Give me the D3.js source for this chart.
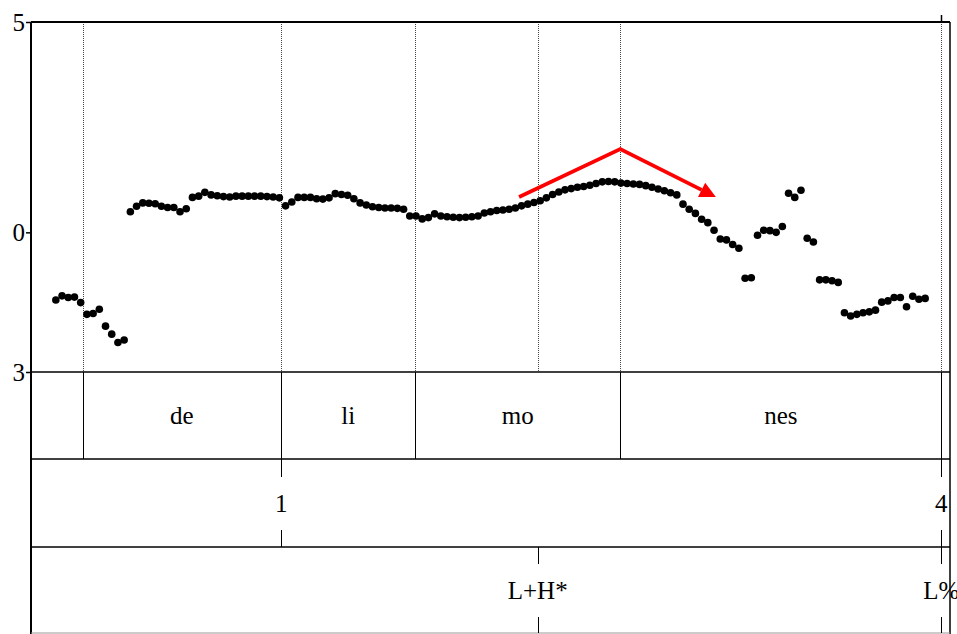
<!DOCTYPE html>
<html>
<head>
<meta charset="utf-8">
<script src="https://cdn.jsdelivr.net/npm/d3@7"></script>
<style>
  html, body { margin: 0; padding: 0; background: #fff; }
  svg { display: block; }
  text { font-family: "Liberation Serif", "Times New Roman", serif; }
</style>
</head>
<body>
<svg id="chart" width="957" height="634"></svg>
<script>
// Pitch track (one frame every 10 ms), in display units of the vertical axis
const frameTimes = [0.04,0.05,0.06,0.07,0.08,0.09,0.10,0.11,0.12,0.13,0.14,0.15,0.16,0.17,0.18,0.19,0.20,0.21,0.22,0.23,
  0.24,0.25,0.26,0.27,0.28,0.29,0.30,0.31,0.32,0.33,0.34,0.35,0.36,0.37,0.38,0.39,0.40,0.41,0.42,0.43,
  0.44,0.45,0.46,0.47,0.48,0.49,0.50,0.51,0.52,0.53,0.54,0.55,0.56,0.57,0.58,0.59,0.60,0.61,0.62,0.63,
  0.64,0.65,0.66,0.67,0.68,0.69,0.70,0.71,0.72,0.73,0.74,0.75,0.76,0.77,0.78,0.79,0.80,0.81,0.82,0.83,
  0.84,0.85,0.86,0.87,0.88,0.89,0.90,0.91,0.92,0.93,0.94,0.95,0.96,0.97,0.98,0.99,1.00,1.01,1.02,1.03,
  1.04,1.05,1.06,1.07,1.08,1.09,1.10,1.11,1.12,1.13,1.14,1.15,1.16,1.17,1.18,1.19,1.20,1.21,1.22,1.23,
  1.24,1.25,1.26,1.27,1.28,1.29,1.30,1.31,1.32,1.33,1.34,1.35,1.36,1.37,1.38,1.39,1.40,1.41,1.42,1.43,1.44];
const pitchValues = [-1.61,-1.51,-1.55,-1.54,-1.67,-1.95,-1.93,-1.83,-2.23,-2.42,-2.62,-2.56,
  0.49,0.62,0.70,0.69,0.68,0.62,0.59,0.59,0.49,0.56,0.83,0.86,0.95,0.89,0.87,0.85,0.84,0.86,
  0.86,0.86,0.86,0.86,0.85,0.84,0.82,0.63,0.72,0.83,0.83,0.83,0.80,0.79,0.82,0.92,0.90,0.88,
  0.80,0.70,0.65,0.61,0.59,0.58,0.58,0.57,0.55,0.39,0.39,0.32,0.35,0.44,0.39,0.37,0.36,0.35,
  0.36,0.37,0.39,0.46,0.49,0.52,0.53,0.55,0.58,0.63,0.67,0.71,0.75,0.82,0.90,0.96,1.01,1.04,
  1.07,1.09,1.12,1.16,1.20,1.21,1.20,1.17,1.16,1.15,1.14,1.11,1.07,1.03,0.99,0.94,0.89,0.67,
  0.55,0.45,0.31,0.23,0.05,-0.16,-0.18,-0.29,-0.38,-1.09,-1.08,-0.07,0.05,0.04,0.00,0.14,0.93,
  0.83,1.00,-0.14,-0.23,-1.13,-1.13,-1.15,-1.19,-1.91,-1.99,-1.95,-1.91,-1.89,-1.85,-1.66,-1.63,
  -1.55,-1.55,-1.77,-1.52,-1.59,-1.57];

// Vertical axis
const yTickValues = [5, 0, -3.32];
const yTickLabels = ["5", "0", "3"];

// Tier 1: syllable intervals
const syllableBounds = [0, 0.083, 0.403, 0.619, 0.949, 1.466, 1.48];
const syllableLabels = ["", "de", "li", "mo", "nes", ""];

// Tier 2: break indices
const breakTimes = [0.403, 1.466];
const breakLabels = ["1", "4"];

// Tier 3: tones
const toneTimes = [0.816, 1.466];
const toneLabels = ["L+H*", "L%"];

// Rise-fall annotation (time, value)
const arrowTimes = [0.786, 0.949, 1.103];
const arrowValues = [0.84, 1.98, 0.84];

const svg = d3.select("#chart");
const W = 957, H = 634;
const plotL = 31, plotR = 950, plotT = 22, pitchBottom = 372;
const tierEdges = [372, 459, 547, 633];

const x = d3.scaleLinear().domain([0, 1.48]).range([plotL, plotR]);
const y = d3.scaleLinear().domain([-3.32, 5]).range([pitchBottom, plotT]);

svg.append("rect").attr("width", W).attr("height", H).attr("fill", "#fff");

// Dotted guides at every boundary and point
const guideTimes = syllableBounds.slice(1, -1).concat(toneTimes.slice(0, 1));
svg.append("g").selectAll("line").data(guideTimes).join("line")
  .attr("x1", d => Math.round(x(d)) + 0.5).attr("x2", d => Math.round(x(d)) + 0.5)
  .attr("y1", plotT).attr("y2", pitchBottom)
  .attr("stroke", "#444").attr("stroke-width", 1).attr("stroke-dasharray", "1,1");

// Small mark above the frame at the final boundary
svg.append("line")
  .attr("x1", Math.round(x(1.466)) + 0.5).attr("x2", Math.round(x(1.466)) + 0.5)
  .attr("y1", 15).attr("y2", plotT)
  .attr("stroke", "#000").attr("stroke-width", 1.5);

// Pitch points
svg.append("g").selectAll("circle").data(frameTimes).join("circle")
  .attr("cx", d => x(d))
  .attr("cy", (d, i) => y(pitchValues[i]))
  .attr("r", 3.8)
  .attr("fill", "#000");

// Red rise-fall arrow
const ap = arrowTimes.map((t, i) => [x(t), y(arrowValues[i])]);
const tip = ap[2], prev = ap[1];
const dx = tip[0] - prev[0], dy = tip[1] - prev[1];
const len = Math.hypot(dx, dy), ux = dx / len, uy = dy / len;
const headL = 16, headW = 8;
const base = [tip[0] - ux * headL, tip[1] - uy * headL];
svg.append("path")
  .attr("d", d3.line()([ap[0], ap[1], base]))
  .attr("fill", "none").attr("stroke", "#ff0000").attr("stroke-width", 3.6)
  .attr("stroke-linejoin", "miter");
svg.append("path")
  .attr("d", d3.line()([tip,
    [base[0] - uy * headW, base[1] + ux * headW],
    [base[0] + uy * headW, base[1] - ux * headW]]) + "Z")
  .attr("fill", "#ff0000");

// Left axis
const yAxis = d3.axisLeft(y).tickValues(yTickValues)
  .tickFormat((d, i) => yTickLabels[i]).tickSize(5).tickPadding(1);
const ag = svg.append("g").attr("transform", `translate(${plotL},0)`).call(yAxis);
ag.select(".domain").remove();
ag.selectAll(".tick line").attr("stroke", "#000").attr("stroke-width", 1.5);
ag.selectAll(".tick text").attr("font-size", 25).attr("fill", "#000")
  .attr("font-family", "Liberation Serif, Times New Roman, serif");

// Frame and tier separators
const frame = svg.append("g").attr("stroke", "#000").attr("fill", "none");
frame.append("line").attr("x1", plotL).attr("x2", plotR).attr("y1", plotT).attr("y2", plotT).attr("stroke-width", 2);
frame.append("line").attr("x1", plotL).attr("x2", plotL).attr("y1", plotT).attr("y2", H).attr("stroke-width", 2);
frame.append("line").attr("x1", plotR).attr("x2", plotR).attr("y1", plotT).attr("y2", H).attr("stroke-width", 1.5);
tierEdges.forEach(e => {
  frame.append("line").attr("x1", plotL).attr("x2", plotR).attr("y1", e).attr("y2", e)
    .attr("stroke-width", e === 633 ? 1 : 1.6).attr("stroke", e === 633 ? "#999" : "#000");
});

// Tier 1: intervals
const t1 = svg.append("g");
t1.selectAll("line").data(syllableBounds.slice(1, -1)).join("line")
  .attr("x1", d => Math.round(x(d)) + 0.5).attr("x2", d => Math.round(x(d)) + 0.5)
  .attr("y1", tierEdges[0]).attr("y2", tierEdges[1])
  .attr("stroke", "#000").attr("stroke-width", 1);
t1.selectAll("text").data(syllableLabels).join("text")
  .attr("x", (d, i) => (x(syllableBounds[i]) + x(syllableBounds[i + 1])) / 2)
  .attr("y", (tierEdges[0] + tierEdges[1]) / 2)
  .attr("dy", "0.35em").attr("text-anchor", "middle")
  .attr("font-size", 25).text(d => d);

// Point tiers: a mark broken around each label
function pointTier(times, labels, y0, y1) {
  const g = svg.append("g");
  const mid = (y0 + y1) / 2;
  times.forEach((t, i) => {
    const px = Math.round(x(t)) + 0.5;
    g.append("line").attr("x1", px).attr("x2", px).attr("y1", y0).attr("y2", mid - 26)
      .attr("stroke", "#000").attr("stroke-width", 1);
    g.append("line").attr("x1", px).attr("x2", px).attr("y1", mid + 27).attr("y2", y1)
      .attr("stroke", "#000").attr("stroke-width", 1);
    g.append("text").attr("x", x(t)).attr("y", mid).attr("dy", "0.35em")
      .attr("text-anchor", "middle").attr("font-size", 25).text(labels[i]);
  });
}
pointTier(breakTimes, breakLabels, tierEdges[1], tierEdges[2]);
pointTier(toneTimes, toneLabels, tierEdges[2], tierEdges[3]);
</script>
</body>
</html>
